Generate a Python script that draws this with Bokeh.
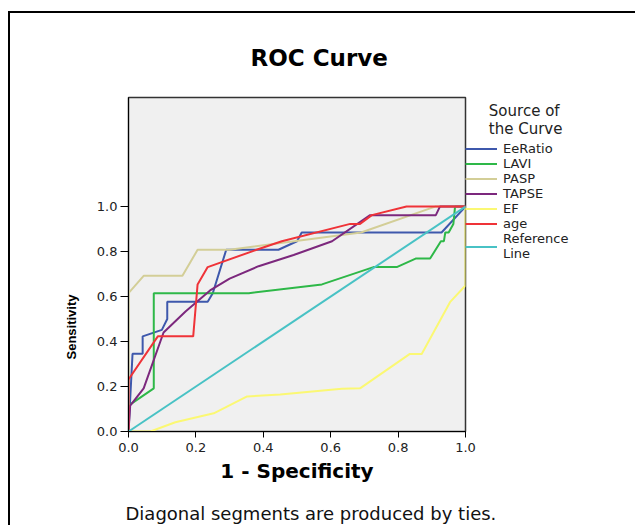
from bokeh.plotting import figure
from bokeh.models import (Range1d, FixedTicker, Legend, LegendItem, Title,
                          CustomJSTickFormatter)
from bokeh.embed import file_html
from bokeh.resources import INLINE

# ---------------- data ----------------
eeratio_x = [0.0, 0.012, 0.042, 0.042, 0.099, 0.115, 0.115, 0.235, 0.25, 0.29, 0.445, 0.5, 0.514, 0.929, 1.0]
eeratio_y = [0.0, 0.346, 0.346, 0.423, 0.452, 0.5, 0.577, 0.577, 0.615, 0.808, 0.808, 0.846, 0.885, 0.885, 1.0]

lavi_x = [0.0, 0.0, 0.075, 0.075, 0.357, 0.574, 0.727, 0.796, 0.852, 0.895, 0.927, 0.936, 0.94, 0.95, 0.964, 0.969, 1.0]
lavi_y = [0.0, 0.115, 0.192, 0.615, 0.615, 0.654, 0.731, 0.731, 0.769, 0.769, 0.846, 0.846, 0.885, 0.885, 0.923, 1.0, 1.0]

pasp_x = [0.0, 0.0, 0.045, 0.16, 0.205, 0.30, 0.69, 0.91, 1.0]
pasp_y = [0.0, 0.615, 0.692, 0.692, 0.808, 0.808, 0.885, 1.0, 1.0]

tapse_x = [0.0, 0.005, 0.045, 0.104, 0.17, 0.242, 0.30, 0.386, 0.49, 0.604, 0.717, 0.912, 0.924, 1.0]
tapse_y = [0.0, 0.115, 0.192, 0.44, 0.535, 0.627, 0.68, 0.735, 0.785, 0.846, 0.962, 0.962, 1.0, 1.0]

ef_x = [0.0, 0.065, 0.139, 0.253, 0.352, 0.45, 0.633, 0.687, 0.835, 0.87, 0.954, 1.0, 1.0]
ef_y = [0.0, 0.0, 0.041, 0.081, 0.156, 0.164, 0.19, 0.192, 0.345, 0.345, 0.575, 0.649, 1.0]

age_x = [0.0, 0.0, 0.087, 0.192, 0.205, 0.235, 0.38, 0.455, 0.658, 0.687, 0.722, 0.825, 1.0]
age_y = [0.0, 0.231, 0.423, 0.423, 0.654, 0.731, 0.808, 0.846, 0.923, 0.923, 0.962, 1.0, 1.0]

ref_x = [0.0, 1.0]
ref_y = [0.0, 1.0]

series_names = ["EeRatio", "LAVI", "PASP", "TAPSE", "EF", "age", "Reference\nLine"]
series_colors = ["#3E58AC", "#2EB848", "#D3CE97", "#7C287D", "#FBF873", "#EF3338", "#48C2C5"]
x_ticks = [0.0, 0.2, 0.4, 0.6, 0.8, 1.0]
y_ticks = [0.0, 0.2, 0.4, 0.6, 0.8, 1.0]

FONT = "DejaVu Sans"
NB = "\u00a0"

p = figure(frame_width=337, frame_height=334, output_backend="svg", toolbar_location=None,
           x_range=Range1d(0, 1.0), y_range=Range1d(0, 1.485),
           min_border_left=118, min_border_right=169, min_border_top=84, min_border_bottom=93)
p.styles = {"margin-left": "10px", "margin-top": "13px", "box-shadow": "-2px -2px 0 0 #000000"}
p.background_fill_color = "#F0F0F0"
p.border_fill_color = "white"
p.outline_line_color = "#333333"
p.outline_line_width = 1.5
p.grid.visible = False

fmt = CustomJSTickFormatter(code="return tick.toFixed(1);")
for ax, ticks, tout, st in ((p.xaxis, x_ticks, 6, 5), (p.yaxis, y_ticks, 8, 3)):
    ax.ticker = FixedTicker(ticks=ticks)
    ax.formatter = fmt
    ax.minor_tick_line_color = None
    ax.major_tick_in = 0
    ax.major_tick_out = tout
    ax.major_tick_line_color = "black"
    ax.axis_line_color = "black"
    ax.major_label_text_font = FONT
    ax.major_label_text_font_size = "13px"
    ax.major_label_text_color = "#222222"
    ax.major_label_standoff = st

p.xaxis.axis_label = "1 - Specificity"
p.xaxis.axis_label_text_font = FONT
p.xaxis.axis_label_text_font_size = "20px"
p.xaxis.axis_label_text_font_style = "bold"
p.xaxis.axis_label_text_color = "black"
p.xaxis.axis_label_standoff = 4

xs = [eeratio_x, lavi_x, pasp_x, tapse_x, ef_x, age_x, ref_x]
ys = [eeratio_y, lavi_y, pasp_y, tapse_y, ef_y, age_y, ref_y]
items = []
for name, col, x, y in zip(series_names, series_colors, xs, ys):
    r = p.line(x, y, line_color=col, line_width=2)
    items.append(LegendItem(label=name, renderers=[r]))

legend = Legend(items=items, location=(0, 170), glyph_width=32, glyph_height=15,
                label_height=15, label_standoff=6, spacing=0, padding=0, margin=0,
                border_line_alpha=0, background_fill_alpha=0,
                label_text_font=FONT, label_text_font_size="13px", label_text_color="#222222",
                label_text_line_height=0.85,
                title=NB * 5 + "Source of\n" + NB * 5 + "the Curve",
                title_text_font=FONT, title_text_font_size="15px", title_text_font_style="normal",
                title_text_color="#222222", title_text_line_height=0.95, title_standoff=3)
p.add_layout(legend, "right")

has_standoff = "standoff" in Title.properties()

def title(text, place, size, bold, offset, standoff, font=FONT, color="black"):
    t = p.title if place == "top" else Title()
    t.text = text
    t.align = "left"
    t.offset = offset
    t.text_font = font
    t.text_font_size = size
    t.text_font_style = "bold" if bold else "normal"
    t.text_color = color
    if has_standoff:
        t.standoff = standoff
    if place != "top":
        p.add_layout(t, place)
    return t

title("ROC Curve", "top", "23px", True, 122, 54)
title("Diagonal segments are produced by ties.", "below", "18px", False, -3, 31, color="#111111")
title("Sensitivity", "left", "13px", True, 72, 29, font="Liberation Sans")

open("out.html", "w").write(file_html(p, INLINE))
